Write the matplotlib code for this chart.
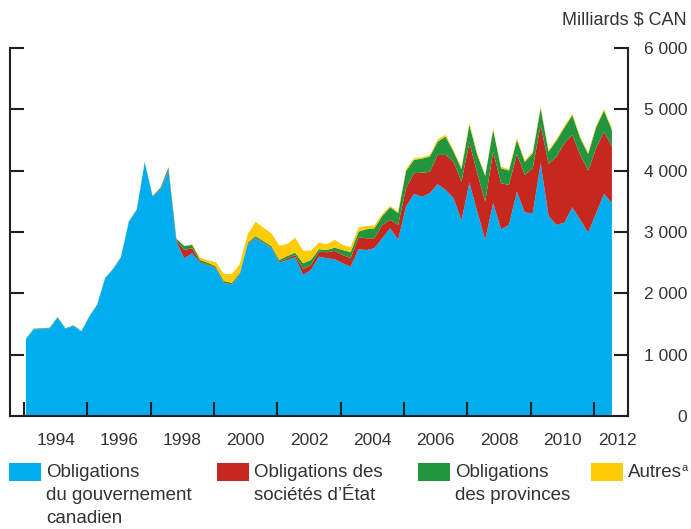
import numpy as np
import matplotlib
matplotlib.use("Agg")
import matplotlib.pyplot as plt
from matplotlib.patches import Rectangle

plt.rcParams['font.family'] = ['Liberation Sans', 'DejaVu Sans']

# Encours trimestriels, milliards $ CAN (T1 1993 - T3 2011)
gouvernement = [1251, 1414, 1419, 1430, 1603, 1419, 1468, 1375, 1615, 1810,
                2243, 2389, 2582, 3164, 3360, 4131, 3577, 3690, 4001, 2840,
                2572, 2654, 2500, 2458, 2400, 2164, 2137, 2300, 2789, 2898,
                2817, 2735, 2500, 2544, 2588, 2300, 2381, 2598, 2572, 2556,
                2490, 2435, 2719, 2707, 2735, 2898, 3061, 2871, 3414, 3621,
                3577, 3632, 3779, 3686, 3551, 3185, 3805, 3332, 2871, 3469,
                3045, 3115, 3658, 3316, 3306, 4121, 3262, 3115, 3153, 3404,
                3197, 2990, 3306, 3621, 3469]
societes = [0, 0, 0, 0, 0, 0, 0, 0, 0, 0,
            0, 0, 0, 0, 0, 0, 0, 15, 25, 20,
            136, 81, 17, 10, 10, 8, 8, 8, 10, 10,
            10, 10, 20, 28, 38, 98, 82, 82, 98, 135,
            136, 137, 195, 191, 163, 217, 136, 244, 300, 337,
            391, 348, 478, 571, 597, 636, 652, 626, 624, 842,
            750, 653, 615, 615, 734, 625, 848, 1114, 1295, 1179,
            1060, 1011, 1060, 1016, 923]
provinces = [10, 10, 10, 10, 10, 10, 10, 10, 10, 10,
             10, 10, 10, 10, 10, 10, 10, 20, 30, 30,
             65, 54, 27, 30, 25, 30, 25, 25, 25, 25,
             25, 25, 25, 38, 37, 93, 81, 39, 37, 54,
             81, 98, 92, 147, 163, 147, 207, 191, 282, 217,
             229, 249, 217, 298, 163, 207, 289, 299, 419, 354,
             245, 233, 229, 212, 245, 272, 201, 261, 254, 321,
             272, 272, 343, 342, 273]
autres = [0, 0, 0, 0, 0, 0, 0, 0, 0, 0,
          0, 0, 0, 0, 0, 0, 0, 0, 0, 0,
          0, 10, 38, 40, 72, 114, 146, 141, 140, 236,
          219, 210, 233, 195, 245, 205, 152, 107, 93, 126,
          82, 81, 65, 54, 43, 33, 21, 26, 28, 28,
          22, 23, 39, 28, 27, 28, 38, 28, 17, 27,
          26, 23, 27, 24, 26, 27, 27, 23, 28, 22,
          26, 21, 21, 28, 27]

etiquettes = ["Obligations\ndu gouvernement\ncanadien",
              "Obligations des\nsociétés d\u2019État",
              "Obligations\ndes provinces",
              "Autres"]
couleurs = ["#00AEEF", "#C4281E", "#21963E", "#FFCB05"]
annees_ticks = list(range(1993, 2012, 2))
annees_labels = list(range(1994, 2013, 2))

gris = "#231F20"
texte = "#333333"

t = 1993.0625 + 0.25 * np.arange(len(gouvernement))

fig = plt.figure(figsize=(6.91, 5.29), dpi=100)
ax = fig.add_axes([10 / 691, 1 - 416 / 529, 618 / 691, 368 / 529])

ax.stackplot(t, gouvernement, societes, provinces, autres,
             colors=couleurs, linewidth=0)

ax.set_xlim(1992.56, 2012.07)
ax.set_ylim(0, 6000)

for s in ["left", "right", "bottom"]:
    ax.spines[s].set_linewidth(1.5)
    ax.spines[s].set_color(gris)
ax.spines["top"].set_visible(False)

# axe des x : petits traits aux années impaires, étiquettes aux années paires
ax.set_xticks(annees_ticks)
ax.set_xticklabels([])
lab_pos = [a if a < 2012 else a - 0.27 for a in annees_labels]
ax.set_xticks(lab_pos, minor=True)
ax.set_xticklabels([str(a) for a in annees_labels], minor=True)
ax.tick_params(axis="x", which="major", direction="in", length=10, width=1.5,
               color=gris, labelbottom=False)
ax.tick_params(axis="x", which="minor", length=0, pad=12, labelsize=12.5,
               labelcolor=texte)

# axe des y à droite
ax.set_yticks(range(0, 6001, 1000))
ax.set_yticklabels(["{:,}".format(v).replace(",", " ") for v in range(0, 6001, 1000)])
ax.tick_params(axis="y", direction="in", length=10, width=1.5, color=gris,
               left=True, right=True, labelleft=False, labelright=True,
               pad=42.5, labelsize=12.5, labelcolor=texte)
for lab in ax.get_yticklabels():
    lab.set_horizontalalignment("right")

fig.text(687 / 691, 1 - 20 / 529, "Milliards $ CAN", ha="right", va="center",
         fontsize=13, color=texte)

# légende
x_patch = [9, 217, 418, 591]
for xp, lab, c in zip(x_patch, etiquettes, couleurs):
    fig.patches.append(Rectangle((xp / 691, 1 - 481 / 529), 32 / 691, 18 / 529,
                                 transform=fig.transFigure, facecolor=c,
                                 edgecolor="none"))
    fig.text((xp + 37) / 691, 1 - 464 / 529, lab, ha="left", va="top",
             fontsize=13.5, color=texte, linespacing=1.45)
# appel de note
fig.text(682 / 691, 1 - 463 / 529, "a", ha="left", va="top",
         fontsize=8, color=texte)

fig.savefig("out.png", dpi=100)
